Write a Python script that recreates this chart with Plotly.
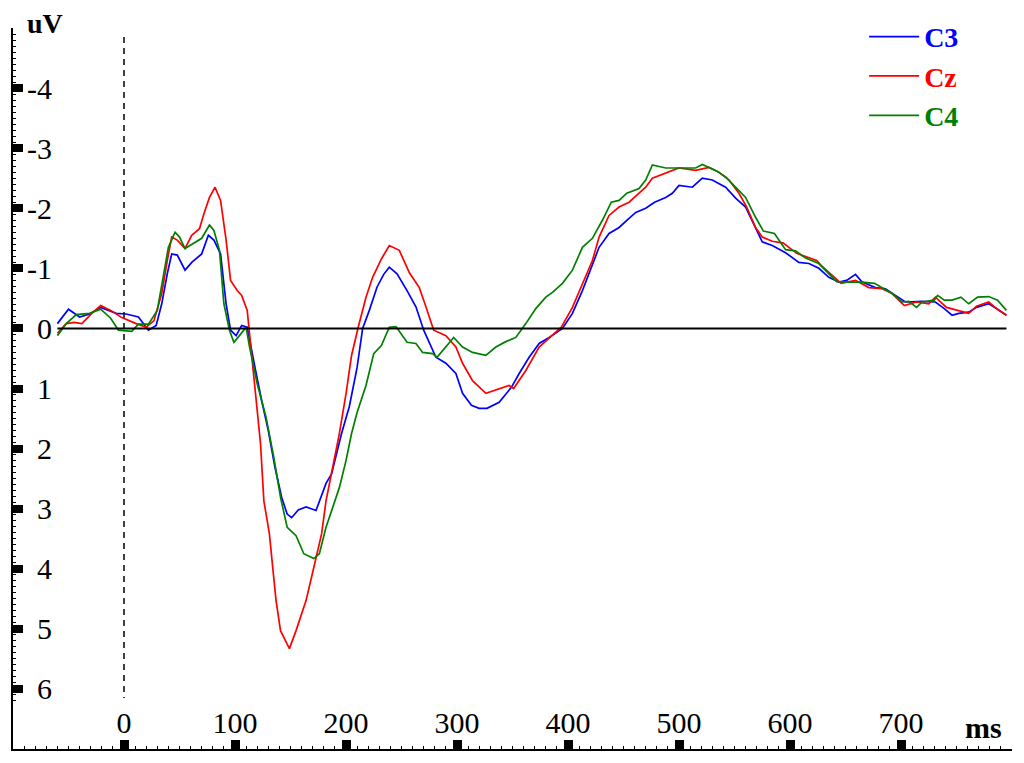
import plotly.graph_objects as go

# ---------------- data ----------------
t_c3 = [-60, -50, -40, -31, -21, -7, 2, 13, 22, 29, 34, 39, 43, 48, 55, 61, 70, 76, 81, 87,
        92, 96, 101, 106, 111, 115, 118, 124, 130, 136, 142, 147, 151, 157, 164, 173, 182, 187,
        196, 203, 210, 215, 221, 228, 234, 239, 246, 255, 263, 270, 281, 290, 299, 305, 313,
        320, 327, 338, 349, 356, 365, 374, 383, 395, 404, 413, 422, 428, 437, 446, 453, 461,
        470, 478, 488, 494, 500, 512, 521, 530, 542, 551, 560, 568, 575, 584, 596, 608, 617,
        626, 635, 644, 651, 659, 665, 677, 686, 695, 704, 719, 731, 739, 746, 752, 761, 768,
        779, 786, 795]
v_c3 = [-0.08, -0.32, -0.19, -0.24, -0.35, -0.25, -0.24, -0.19, 0.03, -0.05, -0.41, -0.91,
        -1.24, -1.22, -0.97, -1.10, -1.24, -1.55, -1.47, -1.24, -0.41, 0.03, 0.12, -0.05, -0.02,
        0.40, 0.65, 1.20, 1.70, 2.31, 2.81, 3.09, 3.15, 3.02, 2.97, 3.03, 2.58, 2.42, 1.75, 1.30,
        0.65, 0.00, -0.30, -0.69, -0.90, -1.02, -0.91, -0.63, -0.36, 0.03, 0.48, 0.58, 0.75,
        1.08, 1.28, 1.33, 1.33, 1.23, 0.98, 0.75, 0.48, 0.25, 0.15, 0.00, -0.25, -0.63, -1.08,
        -1.35, -1.58, -1.68, -1.80, -1.93, -2.00, -2.10, -2.18, -2.25, -2.38, -2.35, -2.50,
        -2.47, -2.35, -2.17, -2.02, -1.72, -1.44, -1.38, -1.26, -1.10, -1.08, -1.00, -0.85,
        -0.77, -0.80, -0.90, -0.77, -0.68, -0.66, -0.55, -0.44, -0.45, -0.44, -0.33, -0.22,
        -0.25, -0.27, -0.35, -0.41, -0.33, -0.22]

t_cz = [-60, -52, -45, -38, -29, -21, -12, -2, 11, 20, 27, 34, 39, 43, 48, 55, 61, 68, 72, 77,
        82, 87, 92, 96, 102, 106, 111, 113, 116, 119, 123, 126, 131, 134, 137, 141, 149, 155,
        164, 171, 178, 182, 188, 194, 200, 205, 211, 218, 224, 232, 239, 248, 257, 266, 272,
        279, 290, 299, 305, 314, 326, 338, 347, 351, 362, 374, 386, 394, 404, 413, 422, 428,
        437, 446, 455, 464, 470, 476, 488, 500, 515, 527, 536, 545, 554, 561, 569, 575, 584,
        594, 606, 617, 624, 628, 635, 646, 659, 671, 683, 692, 703, 714, 725, 731, 741, 752,
        761, 768, 779, 786, 795]
v_cz = [0.08, -0.08, -0.10, -0.08, -0.25, -0.38, -0.30, -0.18, -0.08, -0.02, -0.13, -0.58,
        -1.13, -1.52, -1.47, -1.33, -1.55, -1.66, -1.91, -2.18, -2.35, -2.13, -1.47, -0.80,
        -0.63, -0.55, -0.30, 0.08, 0.65, 1.20, 1.92, 2.87, 3.42, 3.98, 4.53, 5.03, 5.33, 5.03,
        4.53, 3.98, 3.42, 2.87, 2.31, 1.75, 1.09, 0.45, -0.02, -0.52, -0.85, -1.16, -1.38,
        -1.30, -0.93, -0.68, -0.36, 0.03, 0.12, 0.31, 0.58, 0.87, 1.08, 1.00, 0.95, 1.00, 0.70,
        0.31, 0.12, -0.02, -0.35, -0.75, -1.13, -1.52, -1.88, -2.02, -2.10, -2.25, -2.35,
        -2.50, -2.58, -2.67, -2.63, -2.68, -2.60, -2.47, -2.25, -2.02, -1.68, -1.52, -1.45,
        -1.42, -1.25, -1.17, -1.13, -1.05, -0.93, -0.75, -0.80, -0.68, -0.66, -0.58, -0.38,
        -0.44, -0.41, -0.52, -0.35, -0.30, -0.25, -0.37, -0.44, -0.33, -0.22]

t_c4 = [-60, -52, -43, -31, -21, -12, -5, 7, 13, 22, 30, 36, 40, 46, 50, 55, 63, 70, 77, 81,
        86, 90, 95, 99, 104, 110, 113, 120, 128, 135, 141, 147, 155, 162, 171, 176, 182, 188,
        194, 200, 205, 210, 218, 225, 232, 239, 245, 255, 263, 269, 278, 282, 290, 297, 305,
        314, 326, 335, 344, 353, 362, 371, 380, 386, 395, 404, 413, 422, 431, 439, 446, 453,
        464, 470, 476, 488, 497, 515, 521, 533, 542, 551, 560, 569, 576, 586, 596, 605, 614,
        626, 635, 642, 653, 665, 676, 683, 692, 701, 707, 714, 719, 730, 733, 739, 746, 754,
        761, 769, 779, 787, 795]
v_c4 = [0.12, -0.08, -0.23, -0.25, -0.32, -0.17, 0.03, 0.05, -0.07, -0.07, -0.30, -0.97,
        -1.35, -1.60, -1.52, -1.33, -1.42, -1.50, -1.72, -1.63, -1.30, -0.41, 0.03, 0.23, 0.12,
        -0.02, 0.30, 0.92, 1.48, 2.15, 2.81, 3.31, 3.45, 3.75, 3.83, 3.75, 3.31, 2.98, 2.65,
        2.20, 1.75, 1.40, 0.95, 0.42, 0.28, -0.02, -0.03, 0.23, 0.25, 0.40, 0.42, 0.48, 0.31,
        0.15, 0.31, 0.40, 0.45, 0.31, 0.22, 0.15, -0.08, -0.33, -0.52, -0.60, -0.75, -0.97,
        -1.35, -1.50, -1.80, -2.10, -2.13, -2.25, -2.33, -2.47, -2.72, -2.67, -2.67, -2.67,
        -2.73, -2.63, -2.52, -2.35, -2.18, -1.85, -1.62, -1.58, -1.31, -1.29, -1.17, -1.08,
        -0.92, -0.78, -0.77, -0.77, -0.75, -0.68, -0.58, -0.44, -0.45, -0.35, -0.44, -0.47,
        -0.55, -0.47, -0.47, -0.52, -0.41, -0.52, -0.53, -0.47, -0.30]

series_names = ["C3", "Cz", "C4"]
series_colors = ["#0000ff", "#ff0000", "#008000"]

x_tick_vals = [0, 100, 200, 300, 400, 500, 600, 700]
x_tick_text = ["0", "100", "200", "300", "400", "500", "600", "700"]
y_tick_vals = [-4, -3, -2, -1, 0, 1, 2, 3, 4, 5, 6]
y_tick_text = ["-4", "-3", "-2", "-1", "0", "1", "2", "3", "4", "5", "6"]

FONT = "Liberation Serif"

fig = go.Figure()
for name, t, v, col in zip(series_names, [t_c3, t_cz, t_c4], [v_c3, v_cz, v_c4], series_colors):
    fig.add_trace(go.Scatter(
        x=t, y=v, mode="lines",
        line=dict(color=col, width=1.7),
        name=f'<span style="color:{col}"><b>{name}</b></span>',
    ))

fig.update_layout(
    width=1024, height=763,
    margin=dict(l=5, r=20, t=19, b=22),
    plot_bgcolor="white", paper_bgcolor="white",
    font=dict(family=FONT, color="black"),
    legend=dict(
        x=0.852, y=1.021, xanchor="left", yanchor="top",
        font=dict(family=FONT, size=28, color="black"),
        bgcolor="rgba(0,0,0,0)", borderwidth=0,
        itemwidth=50, tracegroupgap=0,
    ),
    xaxis=dict(
        range=[-100, 800], showgrid=False, zeroline=False,
        showline=True, linecolor="black", linewidth=2,
        ticks="inside", ticklen=9, tickwidth=9, tickcolor="black",
        tickmode="array", tickvals=x_tick_vals, ticktext=x_tick_text,
        ticklabelposition="inside", ticklabelstandoff=4,
        tickfont=dict(family=FONT, size=30, color="black"),
        minor=dict(ticks="inside", ticklen=3, tickwidth=1, tickcolor="black",
                   tickmode="linear", tick0=0, dtick=10, showgrid=False),
        automargin=False,
    ),
    yaxis=dict(
        range=[7, -5], showgrid=False, zeroline=False,
        showline=True, linecolor="black", linewidth=2,
        ticks="inside", ticklen=10, tickwidth=8, tickcolor="black",
        tickmode="array", tickvals=y_tick_vals, ticktext=y_tick_text,
        ticklabelposition="outside", ticklabelstandoff=-47,
        tickfont=dict(family=FONT, size=30, color="black"),
        minor=dict(ticks="inside", ticklen=3, tickwidth=1, tickcolor="black",
                   tickmode="linear", tick0=0, dtick=0.1, showgrid=False),
        automargin=False,
    ),
)

# zero baseline across the recorded epoch
fig.add_shape(type="line", xref="x", yref="y", x0=t_c3[0], x1=t_c3[-1], y0=0, y1=0,
              line=dict(color="black", width=2))
# stimulus onset marker
fig.add_shape(type="line", xref="x", yref="y", x0=0, x1=0, y0=-4.85, y1=6.15,
              line=dict(color="black", width=1.5, dash="6px,5px"), layer="below")

fig.add_annotation(text="<b>uV</b>", xref="paper", yref="paper", x=0.032, y=1.006,
                   xanchor="center", yanchor="middle", showarrow=False,
                   font=dict(family=FONT, size=28, color="black"))
fig.add_annotation(text="<b>ms</b>", xref="paper", yref="paper", x=0.971, y=0.030,
                   xanchor="center", yanchor="middle", showarrow=False,
                   font=dict(family=FONT, size=30, color="black"))

fig.write_html("out.html")
